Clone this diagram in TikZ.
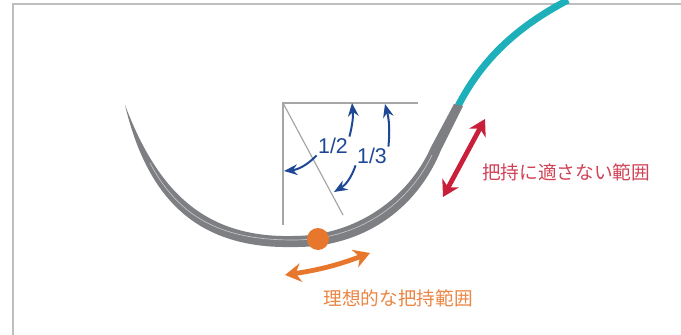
\documentclass[tikz,border=0pt]{standalone}
\usepackage{fontspec}
\newfontfamily\jpfont{Noto Sans CJK JP}
\newfontfamily\numfont{Liberation Sans}
\usetikzlibrary{arrows.meta}
\definecolor{needlegray}{RGB}{126,127,131}
\definecolor{needlelight}{RGB}{196,197,200}
\definecolor{threadteal}{RGB}{30,176,186}
\definecolor{markblue}{RGB}{30,72,150}
\definecolor{goodorange}{RGB}{232,119,46}
\definecolor{badred}{RGB}{200,32,58}
\definecolor{framegray}{RGB}{190,190,190}
\tikzstyle{guide} = [draw=gray!70, line width=0.9pt]
\tikzstyle{ratio} = [text=markblue, font=\numfont\fontsize{16}{18}\selectfont, inner sep=1pt]
\tikzstyle{ratio_arrow} = [draw=markblue, line width=1.5pt, -{Stealth[length=10pt,width=8pt]}]
\tikzstyle{range_arrow} = [line width=3.6pt, {Stealth[length=12pt,width=14pt]}-{Stealth[length=12pt,width=14pt]}]
\tikzstyle{range_text} = [font=\jpfont\fontsize{14}{16}\selectfont, inner sep=0pt]

\begin{document}
\begin{tikzpicture}[x=0.75pt, y=-0.75pt]
		\useasboundingbox (0,0) rectangle (681,335);
		% frame
		\draw [framegray, line width=1.5pt] (13,335) -- (13,4) -- (681,4);

		% thread
		\draw [threadteal, line width=5.2pt] (458,106) .. controls (482,60) and (515,28) .. (568,0);

		% needle body, tapering to the point
		\fill [needlegray] (125,105) .. controls (148,202) and (200,249) .. (293,247)
			.. controls (361,248) and (416,211) .. (441,150) -- (463,106) -- (454,104) -- (431,147)
			.. controls (408,199) and (355,236) .. (293,236)
			.. controls (205,238) and (158,192) .. (125,105) -- cycle;
		\draw [needlelight, line width=0.5pt] (150,163) .. controls (180,220) and (225,240) .. (293,240)
			.. controls (358,240) and (408,205) .. (432,155);

		% guide lines
		\coordinate (corner) at (283,103);
		\coordinate (vend) at (283,225);
		\coordinate (hend) at (418,103);
		\coordinate (dend) at (343,215);
		\draw [guide] (vend) -- (corner) -- (hend);
		\draw [guide] (corner) -- (dend);

		% ratio marks
		\node (half) [ratio] at (333,146) {1/2};
		\node (third) [ratio] at (372,156) {1/3};
		\coordinate (half_top) at (352,103);
		\coordinate (half_side) at (284,171);
		\coordinate (third_top) at (385,104);
		\coordinate (third_diag) at (334,192);
		\draw [ratio_arrow] (half.north east) to[bend right=10] (half_top);
		\draw [ratio_arrow] (half.south west) to[bend left=20] (half_side);
		\draw [ratio_arrow] (third.north east) to[bend right=10] (third_top);
		\draw [ratio_arrow] (third.south west) to[bend left=20] (third_diag);

		% ideal grip
		\node (grip) [circle, fill=goodorange, minimum size=16.5pt, inner sep=0pt] at (318,239) {};
		\coordinate (good_l) at (285,275);
		\coordinate (good_r) at (370,253);
		\draw [range_arrow, goodorange] (good_l) to[bend right=6] (good_r);
		\node (good_label) [range_text, text=goodorange!90!white] at (398,298) {理想的な把持範囲};

		% unsuitable grip
		\coordinate (bad_lo) at (443,197);
		\coordinate (bad_hi) at (485,119);
		\draw [range_arrow, badred] (bad_lo) -- (bad_hi);
		\node (bad_label) [range_text, text=badred!85!white, anchor=west] at (482,172) {把持に適さない範囲};

		\end{tikzpicture}
\end{document}
